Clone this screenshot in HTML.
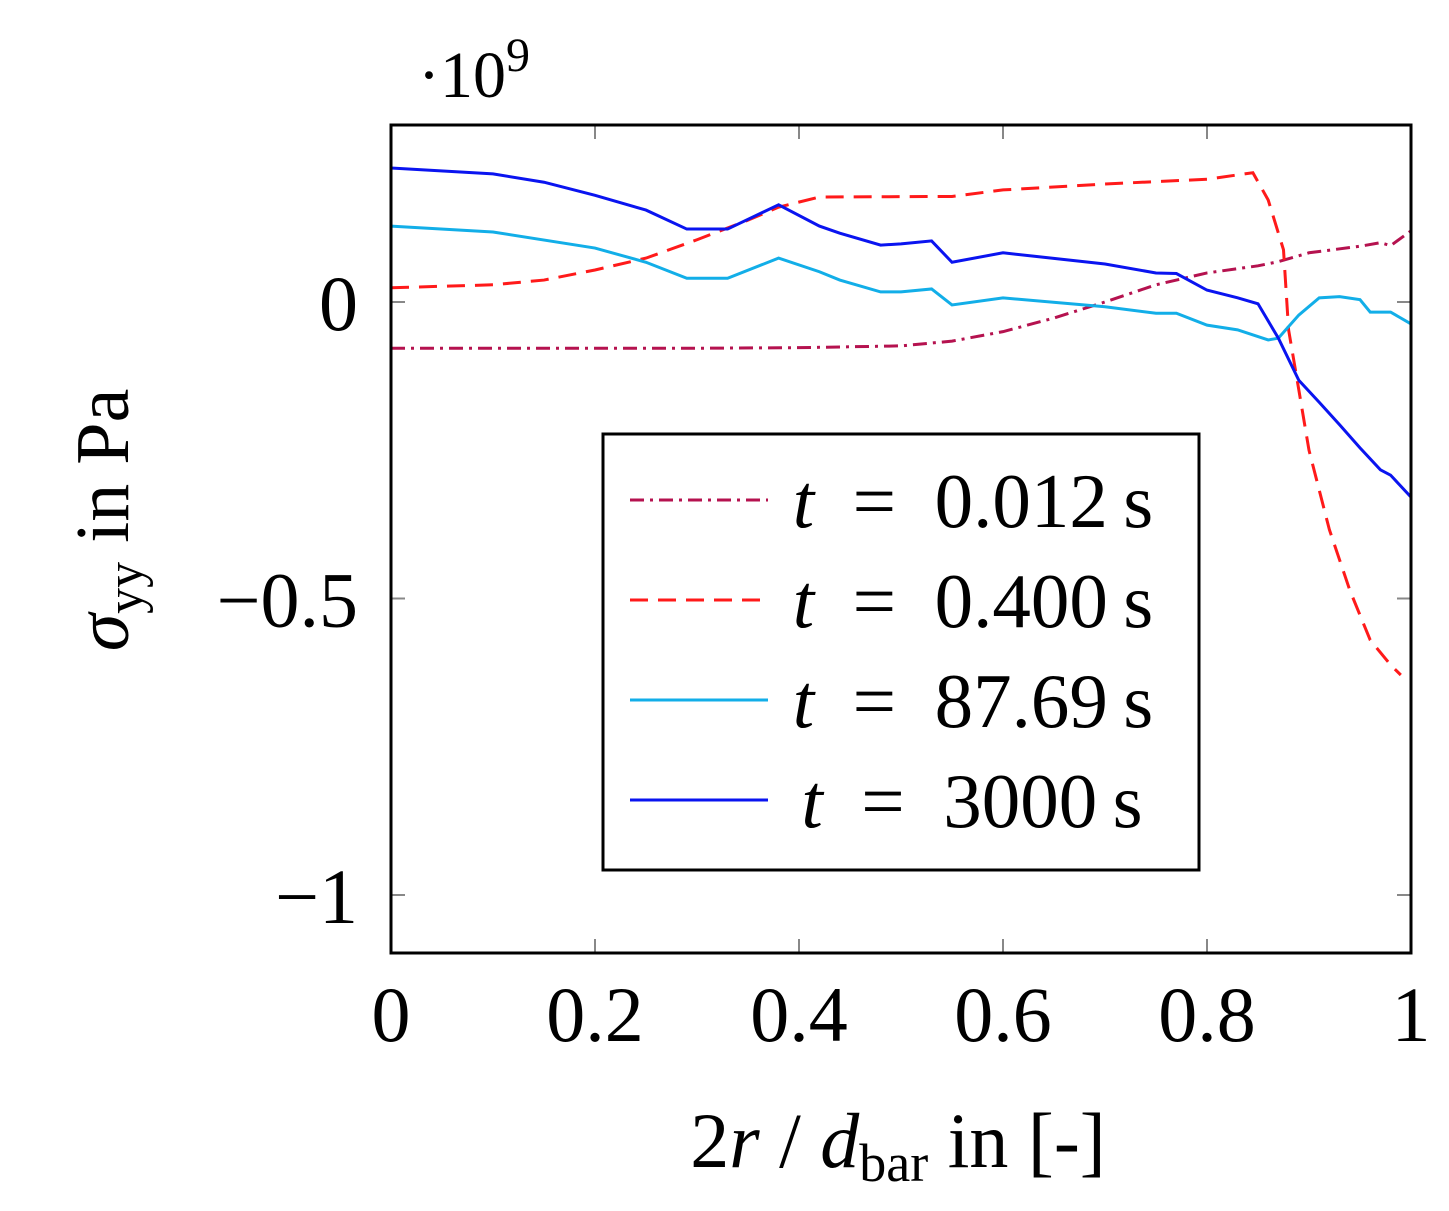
<!DOCTYPE html>
<html><head><meta charset="utf-8"><style>
html,body{margin:0;padding:0;background:#fff}
svg{display:block;font-family:"Liberation Serif",serif}
</style></head><body>
<svg id="chart" width="1449" height="1211" viewBox="0 0 1449 1211">
<g id="ticks"></g>
<g id="series"></g>
<rect x="391" y="125" width="1020" height="828" fill="none" stroke="#000" stroke-width="3"/>
<text x="418" y="97" font-size="66">·10<tspan dy="-26" font-size="48">9</tspan></text>
<text x="898" y="1167" font-size="78" text-anchor="middle">2<tspan font-style="italic">r</tspan> / <tspan font-style="italic">d</tspan><tspan font-size="54" dy="14">bar</tspan><tspan dy="-14"> in [-]</tspan></text>
<text transform="translate(128,520) rotate(-90)" font-size="76" text-anchor="middle"><tspan font-style="italic">σ</tspan><tspan font-size="52" dy="14">yy</tspan><tspan dy="-14"> in Pa</tspan></text>
<g>
<rect x="603" y="434" width="596" height="436" fill="#fff" stroke="#000" stroke-width="3"/>
<g id="legend-entries"></g>
</g>
</svg>
<script>
const xTicks=[0,0.2,0.4,0.6,0.8,1];
const xTickLabels=["0","0.2","0.4","0.6","0.8","1"];
const yTicks=[0,-0.5,-1];
const yTickLabels=["0","\u22120.5","\u22121"];
const x012=[0,0.1,0.2,0.3,0.4,0.5,0.55,0.6,0.65,0.7,0.75,0.8,0.85,0.87,0.9,0.95,0.97,0.98,1.0];
const y012=[-0.078,-0.078,-0.078,-0.078,-0.077,-0.074,-0.066,-0.05,-0.027,0,0.029,0.049,0.061,0.068,0.083,0.094,0.1,0.095,0.12];
const x400=[0,0.1,0.15,0.2,0.25,0.3,0.35,0.38,0.42,0.55,0.6,0.7,0.8,0.845,0.86,0.875,0.88,0.89,0.9,0.92,0.94,0.96,0.98,0.99];
const y400=[0.024,0.029,0.037,0.054,0.074,0.105,0.138,0.16,0.177,0.178,0.189,0.199,0.207,0.218,0.172,0.088,-0.047,-0.148,-0.25,-0.384,-0.486,-0.57,-0.612,-0.629];
const x8769=[0,0.1,0.2,0.25,0.29,0.33,0.38,0.42,0.44,0.48,0.5,0.53,0.55,0.6,0.7,0.75,0.77,0.8,0.83,0.86,0.87,0.89,0.91,0.93,0.95,0.96,0.98,1.0];
const y8769=[0.128,0.118,0.091,0.067,0.04,0.04,0.074,0.051,0.037,0.017,0.017,0.022,-0.005,0.007,-0.008,-0.019,-0.019,-0.039,-0.047,-0.064,-0.061,-0.022,0.007,0.009,0.004,-0.017,-0.017,-0.037];
const x3000=[0,0.1,0.15,0.2,0.25,0.29,0.33,0.38,0.42,0.44,0.48,0.5,0.53,0.55,0.6,0.7,0.75,0.77,0.8,0.83,0.85,0.87,0.89,0.91,0.93,0.95,0.97,0.98,1.0];
const y3000=[0.226,0.216,0.202,0.18,0.155,0.123,0.123,0.164,0.128,0.116,0.096,0.098,0.103,0.067,0.083,0.064,0.049,0.048,0.02,0.007,-0.003,-0.061,-0.132,-0.169,-0.207,-0.246,-0.283,-0.292,-0.329];
const seriesLabels=["0.012","0.400","87.69","3000"];
const NS="http://www.w3.org/2000/svg";
const X=v=>391+v*1020, Y=v=>302-v*593;
const tk=document.getElementById('ticks');
function el(t,a,p){const e=document.createElementNS(NS,t);for(const k in a)e.setAttribute(k,a[k]);p.appendChild(e);return e;}
xTicks.forEach((v,i)=>{
  el('line',{x1:X(v),x2:X(v),y1:953,y2:939,stroke:'#888','stroke-width':2},tk);
  el('line',{x1:X(v),x2:X(v),y1:125,y2:139,stroke:'#888','stroke-width':2},tk);
  const t=el('text',{x:X(v),y:1041,'font-size':78,'text-anchor':'middle'},tk);
  
  
  t.textContent=xTickLabels[i];
});
yTicks.forEach((v,i)=>{
  el('line',{x1:391,x2:405,y1:Y(v),y2:Y(v),stroke:'#888','stroke-width':2},tk);
  el('line',{x1:1397,x2:1411,y1:Y(v),y2:Y(v),stroke:'#888','stroke-width':2},tk);
  const t=el('text',{x:358,y:Y(v)+28,'font-size':78,'text-anchor':'end'},tk);
  
  
  t.textContent=yTickLabels[i];
});
const styles=[{c:'#b5124f',d:'14 6 3 6'},{c:'#ff1a1a',d:'18 10'},{c:'#12aee8',d:''},{c:'#0a14f0',d:''}];
const data=[[x012,y012],[x400,y400],[x8769,y8769],[x3000,y3000]];
const sg=document.getElementById('series');
data.forEach((s,i)=>{
  const p=el('polyline',{points:s[0].map((x,j)=>X(x)+','+Y(s[1][j])).join(' '),fill:'none',stroke:styles[i].c,'stroke-width':3,'stroke-dasharray':styles[i].d},sg);
  
  
});
const lg=document.getElementById('legend-entries');
seriesLabels.forEach((lab,i)=>{
  const y=500+i*100;
  const l=el('line',{x1:630,x2:768,y1:y,y2:y,stroke:styles[i].c,'stroke-width':3,'stroke-dasharray':styles[i].d},lg);
  
  
  const t=el('text',{x:i==3?972:973,y:y+27,'font-size':77,'text-anchor':'middle'},lg);
  
  
  t.innerHTML='<tspan font-style="italic">t</tspan>\u2002=\u2002'+lab+'\u2009s';
});
</script>
</body></html>
